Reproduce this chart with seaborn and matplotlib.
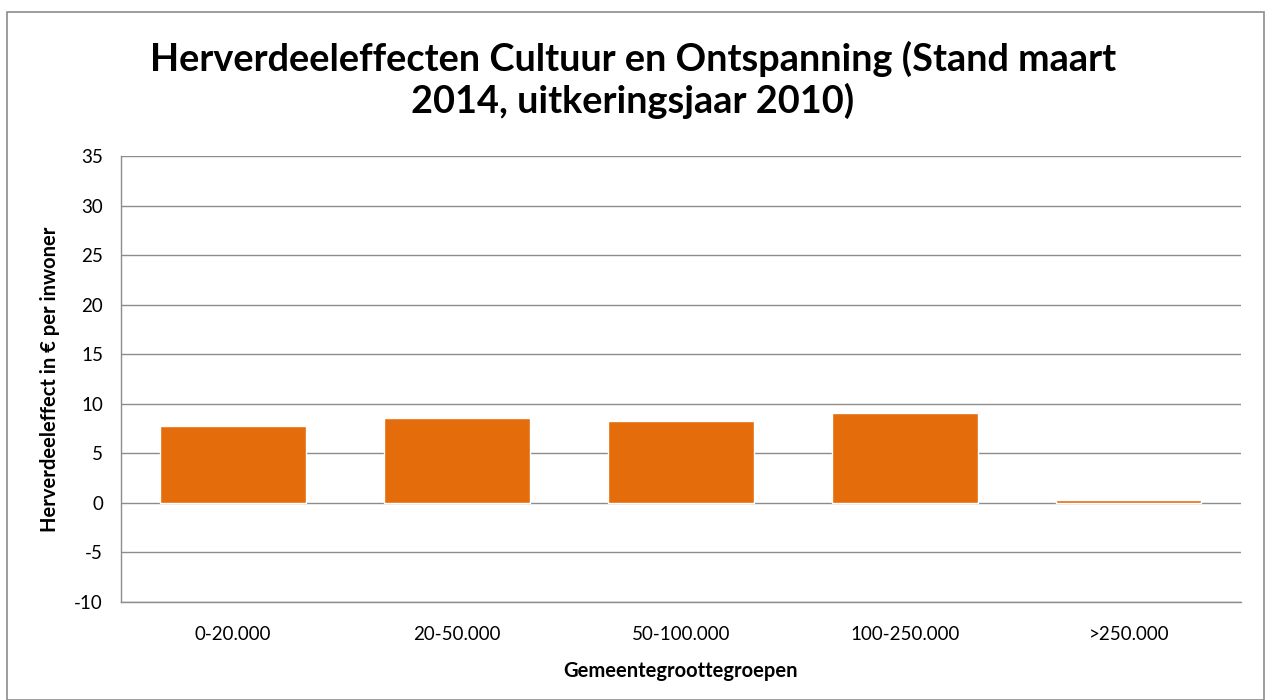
import matplotlib
matplotlib.use("Agg")
import matplotlib.pyplot as plt
import seaborn as sns
import pandas as pd
from matplotlib.patches import Rectangle

categories = ['0-20.000', '20-50.000', '50-100.000', '100-250.000', '>250.000']
values = [7.8, 8.6, 8.25, 9.1, 0.25]
y_ticks = list(range(-10, 40, 5))

df = pd.DataFrame({'groep': categories, 'effect': values})

sns.set_theme(style='white')
plt.rcParams['font.family'] = ['Lato', 'DejaVu Sans']
plt.rcParams['text.color'] = 'black'
plt.rcParams['axes.labelcolor'] = 'black'
plt.rcParams['xtick.color'] = 'black'
plt.rcParams['ytick.color'] = 'black'

fig = plt.figure(figsize=(12.66, 7), dpi=100)
ax = fig.add_axes([0.0956, 0.14, 0.8844, 0.637])

sns.barplot(data=df, x='groep', y='effect', color='#E46C0A', saturation=1,
            width=0.65, ax=ax, zorder=3)

ax.set_ylim(-10, 35)
ax.set_yticks(y_ticks)
ax.set_yticklabels([str(t) for t in y_ticks], fontsize=13.5)
ax.tick_params(axis='y', length=5, width=1, color='#888888', direction='out', pad=8,
               labelcolor='black')
ax.tick_params(axis='x', length=0, labelsize=13.5, pad=17, labelcolor='black')
ax.grid(axis='y', color='#8c8c8c', linewidth=1, zorder=0)
ax.set_axisbelow(True)

for s in ['top', 'right']:
    ax.spines[s].set_visible(False)
for s in ['left', 'bottom']:
    ax.spines[s].set_color('#8c8c8c')
    ax.spines[s].set_linewidth(1)

ax.set_xlabel('Gemeentegroottegroepen', fontsize=14.5, fontweight='bold', labelpad=13)
ax.set_ylabel('Herverdeeleffect in € per inwoner', fontsize=14.5, fontweight='bold', labelpad=10)

fig.text(0.5, 0.886, 'Herverdeeleffecten Cultuur en Ontspanning (Stand maart\n2014, uitkeringsjaar 2010)',
         ha='center', va='center', fontsize=27.3, fontweight='bold', linespacing=1.2)

fig.patches.append(Rectangle((7 / 1266, 0), 1257 / 1266, 688 / 700, transform=fig.transFigure,
                             fill=False, edgecolor='#8c8c8c', linewidth=1.2))

fig.savefig('out.png', dpi=100)
